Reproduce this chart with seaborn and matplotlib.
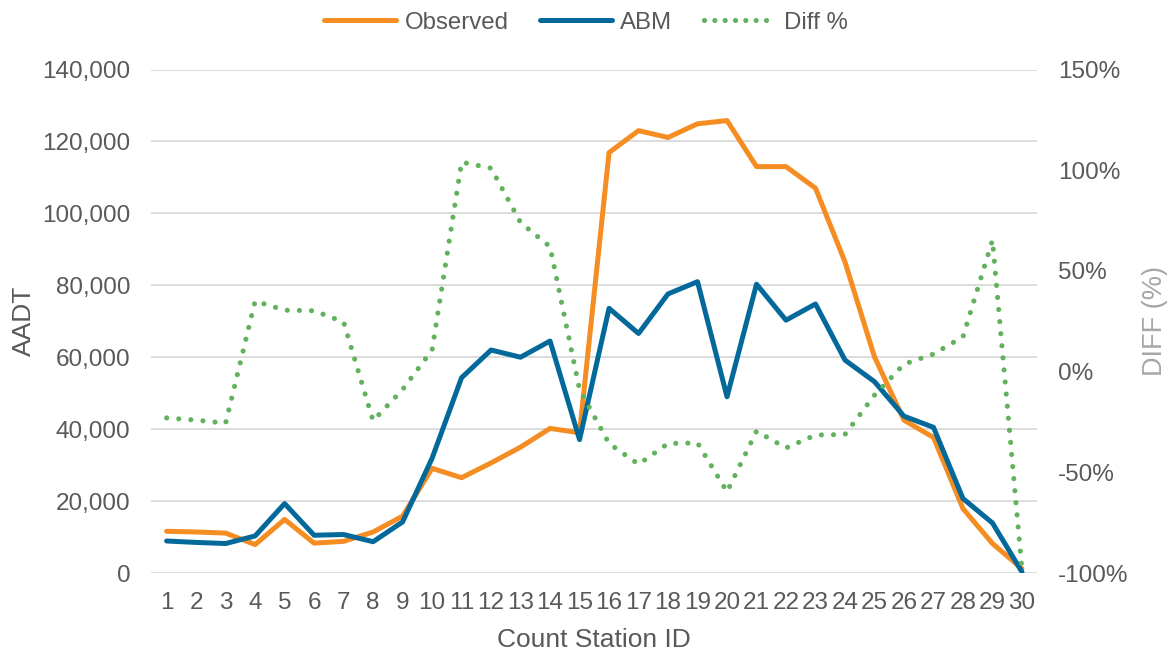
import matplotlib
matplotlib.use("Agg")
import matplotlib.pyplot as plt
import seaborn as sns
import pandas as pd
import numpy as np
from matplotlib.ticker import FuncFormatter, FixedLocator
from matplotlib.lines import Line2D

stations = list(range(1, 31))
observed = [11600, 11400, 11100, 7900, 14900, 8300, 8800, 11400, 15800, 29100,
            26500, 30600, 35000, 40200, 39000, 116900, 123000, 121100, 124900, 125800,
            113000, 113000, 107000, 86500, 60100, 42500, 37700, 17900, 8200, 1200]
abm = [8900, 8500, 8200, 10300, 19300, 10500, 10700, 8700, 14200, 31900,
       54300, 62000, 60000, 64500, 37100, 73600, 66600, 77600, 81000, 49000,
       80300, 70300, 74800, 59200, 53200, 43600, 40500, 20700, 13900, 300]
diff_pct = [-23.0, -24.1, -25.6, 35.0, 30.5, 30.2, 24.6, -24.4, -8.9, 10.7,
            104, 101, 74, 62, -8.9, -35.7, -46, -35.7, -35.4, -59.7,
            -29.6, -37.9, -31.5, -31.2, -11.7, 3.7, 8.7, 17.3, 65.3, -98.3]

left_ticks = [0, 20000, 40000, 60000, 80000, 100000, 120000, 140000]
right_ticks = [-100, -50, 0, 50, 100, 150]

c_obs = "#F58D22"
c_abm = "#02699A"
c_diff = "#62B15C"
txt = "#595959"

sns.set_theme(style="white")
plt.rcParams["font.family"] = ["Liberation Sans", "DejaVu Sans"]

df = pd.DataFrame({"station": stations, "Observed": observed, "ABM": abm, "Diff": diff_pct})

fig = plt.figure(figsize=(11.72, 6.53), dpi=100)
ax = fig.add_axes([151 / 1172, 1 - 573 / 653, (1037 - 151) / 1172, (573 - 69.5) / 653])
ax2 = ax.twinx()

for a in (ax, ax2):
    for s in a.spines.values():
        s.set_visible(False)

ax.set_ylim(0, 140000)
ax.yaxis.set_major_locator(FixedLocator(left_ticks))
ax.yaxis.set_major_formatter(FuncFormatter(lambda v, p: f"{int(v):,}"))
ax.grid(axis="y", color="#D9D9D9", lw=1.3)
ax.grid(axis="x", visible=False)
ax.set_axisbelow(True)

sns.lineplot(data=df, x="station", y="Observed", ax=ax, color=c_obs, lw=3.6, legend=False)
sns.lineplot(data=df, x="station", y="ABM", ax=ax, color=c_abm, lw=3.6, legend=False)
sns.lineplot(data=df, x="station", y="Diff", ax=ax2, color=c_diff, lw=3.7,
             linestyle=(0, (0.01, 2.35)), dash_capstyle="round", legend=False)

ax2.set_ylim(-100, 150)
ax2.yaxis.set_major_locator(FixedLocator(right_ticks))
ax2.yaxis.set_major_formatter(FuncFormatter(lambda v, p: f"{int(v)}%".replace("\u2212", "-")))
ax2.grid(False)

ax.set_xlim(0.47, 30.51)
ax.set_xticks(stations)
ax.set_xticklabels([str(s) for s in stations])

ax.tick_params(axis="y", length=0, labelsize=17.5, colors=txt, pad=15)
ax.tick_params(axis="x", length=0, labelsize=17.5, colors=txt, pad=14)
ax2.tick_params(axis="y", length=0, labelsize=17.5, colors=txt, pad=15)

ax.set_xlabel("Count Station ID", fontsize=19, color=txt, labelpad=9.5)
ax.set_ylabel("AADT", fontsize=19, color=txt, labelpad=4)
ax2.set_ylabel("DIFF (%)", fontsize=19.5, color="#A6A6A6", labelpad=10)

handles = [Line2D([0], [0], color=c_obs, lw=3.6, solid_capstyle="round"),
           Line2D([0], [0], color=c_abm, lw=3.6, solid_capstyle="round"),
           Line2D([0], [0], color=c_diff, lw=3.7, linestyle=(0, (0.01, 2.0)), dash_capstyle="round")]
leg = fig.legend(handles, ["Observed", "ABM", "Diff %"], loc="upper center",
                 bbox_to_anchor=(0.5, 1.015), ncol=3, frameon=False, fontsize=17.3,
                 handlelength=3.0, handletextpad=0.35, columnspacing=1.3)
for t in leg.get_texts():
    t.set_color(txt)

fig.savefig("out.png", dpi=100)
